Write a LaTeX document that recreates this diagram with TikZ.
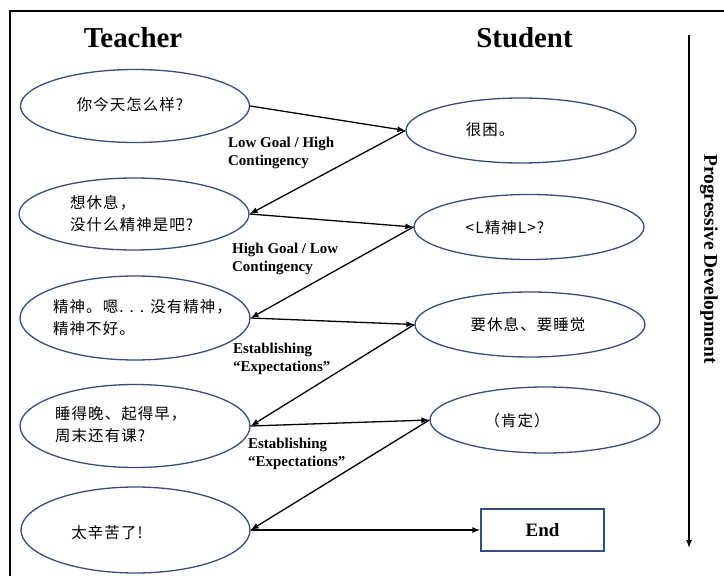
\documentclass[tikz,border=0pt]{standalone}
\usepackage{fontspec}
\setmainfont{Liberation Serif}
\newfontfamily\cjk[LetterSpace=7]{Noto Sans CJK SC}
\usetikzlibrary{shapes.geometric,arrows.meta}
\definecolor{ellblue}{RGB}{52,78,125}
\begin{document}
\begin{tikzpicture}[x=1bp,y=-1bp,
  ell/.style={draw=ellblue, line width=1.3bp, ellipse, inner sep=0pt},
  cn/.style={font=\cjk\fontsize{15.5}{22}\selectfont, align=left, inner sep=0pt},
  lab/.style={font=\bfseries\fontsize{15}{18}\selectfont, align=left, inner sep=0pt, anchor=west},
  head/.style={font=\bfseries\fontsize{29}{33}\selectfont, inner sep=0pt},
  arr/.style={-{Latex[length=8bp,width=6bp]}, line width=1.3bp}]
\useasboundingbox (0,0) rectangle (724,576);
\draw[line width=2bp] (10,576) -- (10,11) -- (724,11);
\node[head] (teacher) at (133,38) {Teacher};
\node[head] (student) at (524.5,38) {Student};
% teacher ellipses
\node[ell, minimum width=229bp, minimum height=73bp] (e1) at (135,106) {};
\node[ell, minimum width=230bp, minimum height=72bp] (e2) at (134,214) {};
\node[ell, minimum width=230bp, minimum height=84bp] (e3) at (135,318) {};
\node[ell, minimum width=230bp, minimum height=83bp] (e4) at (135,426) {};
\node[ell, minimum width=229bp, minimum height=86bp] (e5) at (135.5,530) {};
% student ellipses
\node[ell, minimum width=230bp, minimum height=65bp] (s1) at (521,130.5) {};
\node[ell, minimum width=230bp, minimum height=65bp] (s2) at (529,227) {};
\node[ell, minimum width=230bp, minimum height=65bp] (s3) at (530,324.5) {};
\node[ell, minimum width=230bp, minimum height=66bp] (s4) at (545,420) {};
\node[draw=ellblue, line width=1.3bp, minimum width=123bp, minimum height=42bp, inner sep=0pt,
      font=\bfseries\fontsize{19}{22}\selectfont] (end) at (542.5,530) {End};
% texts
\node[cn] (t1) at (130,105) {你今天怎么样?};
\node[cn, anchor=west] (t2) at (70,214) {想休息，\\没什么精神是吧?};
\node[cn, anchor=west] (t3) at (53,317.5) {精神。嗯. . . 没有精神，\\精神不好。};
\node[cn, anchor=west] (t4) at (55,425) {睡得晚、起得早，\\周末还有课?};
\node[cn] (t5) at (107,533) {太辛苦了!};
\node[cn] (u1) at (490,130) {很困。};
\node[cn] (u2) at (505,228) {<L精神L>?};
\node[cn] (u3) at (528,325) {要休息、要睡觉};
\node[cn] (u4) at (517,421) {（肯定）};
% arrows
\draw[arr] (e1.east) -- (s1.west);
\draw[arr] (s1.west) -- (e2.east);
\draw[arr] (e2.east) -- (s2.west);
\draw[arr] (s2.west) -- (e3.east);
\draw[arr] (e3.east) -- (s3.west);
\draw[arr] (s3.west) -- (e4.east);
\draw[arr] (e4.east) -- (s4.west);
\draw[arr] (s4.west) -- (e5.east);
\draw[arr] (e5.east) -- (end.west);
% labels
\node[lab] (l1) at (228,152.5) {Low Goal / High\\Contingency};
\node[lab] (l2) at (232,258.5) {High Goal / Low\\Contingency};
\node[lab] (l3) at (233,359) {Establishing\\“Expectations”};
\node[lab] (l4) at (248,454) {Establishing\\“Expectations”};
% progressive development
\coordinate (pd1) at (689,35);
\coordinate (pd2) at (689,548);
\draw[arr] (pd1) -- (pd2);
\node[rotate=-90, inner sep=0pt, font=\bfseries\fontsize{19.5}{22}\selectfont] (pd) at (709,259) {Progressive Development};
\end{tikzpicture}
\end{document}
